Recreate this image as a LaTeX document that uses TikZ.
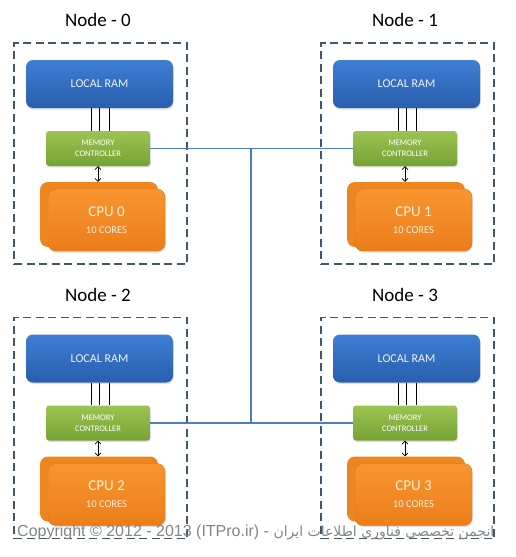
\documentclass[tikz,border=0pt]{standalone}
\usepackage{fontspec}
\setmainfont{Carlito}
\newfontfamily\latinsans{Liberation Sans}
\newfontfamily\arabicfont[Script=Arabic]{DejaVu Sans}
\TeXXeTstate=1
\usetikzlibrary{arrows.meta,shadows}
\definecolor{ramtop}{HTML}{3D7FD4}
\definecolor{rambot}{HTML}{2A5EAD}
\definecolor{ramtext}{HTML}{EEF3FB}
\definecolor{mctop}{HTML}{9CC452}
\definecolor{mcbot}{HTML}{76A235}
\definecolor{cputop}{HTML}{F89530}
\definecolor{cpubot}{HTML}{EC7E1A}
\definecolor{cpuback}{HTML}{EE861F}
\definecolor{cpuedge}{HTML}{DD7412}
\definecolor{cputext}{HTML}{FFF2DC}
\definecolor{boxline}{HTML}{3F5871}
\definecolor{linkblue}{HTML}{4A7EBB}
\definecolor{copygray}{HTML}{858585}
\tikzset{
  titlenode/.style={font=\fontsize{19}{22}\selectfont, inner sep=0pt},
  nodebox/.style={draw=boxline, line width=1.6pt, dash pattern=on 8pt off 4.5pt, minimum width=173pt, minimum height=221pt, inner sep=0pt},
  ramnode/.style={rounded corners=7pt, top color=ramtop, bottom color=rambot, minimum width=147pt, minimum height=48pt, inner sep=0pt, text=ramtext, font=\fontsize{12}{14}\selectfont, drop shadow={shadow xshift=0.8pt, shadow yshift=-1.6pt, opacity=0.25}},
  mcnode/.style={rounded corners=3pt, top color=mctop, bottom color=mcbot, minimum width=104pt, minimum height=35pt, inner sep=0pt, text=white, align=center, font=\fontsize{8.5}{11}\selectfont, drop shadow={shadow xshift=0.8pt, shadow yshift=-1.4pt, opacity=0.25}},
  cpubacknode/.style={rounded corners=8pt, fill=cpuback, minimum width=118pt, minimum height=65pt, inner sep=0pt},
  cpunode/.style={rounded corners=8pt, top color=cputop, bottom color=cpubot, draw=cpuedge, line width=0.4pt, minimum width=117pt, minimum height=62pt, inner sep=0pt, text=cputext, align=center, drop shadow={shadow xshift=0.8pt, shadow yshift=-1.6pt, opacity=0.25}},
  bus/.style={black, line width=1.3pt},
  biarrow/.style={black, line width=0.7pt, {Straight Barb[length=3pt,width=6pt]}-{Straight Barb[length=3pt,width=6pt]}},
  link/.style={linkblue, line width=1.8pt},
  copynode/.style={text=copygray, inner sep=0pt, anchor=west}
}
\begin{document}
\begin{tikzpicture}[x=1pt,y=-1pt]
\useasboundingbox (0,0) rectangle (515,557);
\fill[white] (0,0) rectangle (515,557);
\coordinate (jx) at (251,0);
\foreach \i/\dx/\dy in {0/0/0, 1/307/0, 2/0/274.5, 3/307/274.5} {
  \node[titlenode] (title\i) at (98+\dx, 20+\dy) {Node - \i};
  \node[nodebox] (box\i) at (100.5+\dx, 153.5+\dy) {};
  \node[ramnode] (ram\i) at (99.5+\dx, 84+\dy) {LOCAL RAM};
  \node[mcnode] (mc\i) at (98+\dx, 148.5+\dy) {MEMORY\\CONTROLLER};
  \node[cpubacknode] (cpub\i) at (99+\dx, 214.5+\dy) {};
  \node[cpunode] (cpu\i) at (106.5+\dx, 220+\dy) {{\fontsize{15}{17}\selectfont CPU \i}\\[5pt]{\fontsize{10.5}{12}\selectfont 10 CORES}};
  \foreach \o in {-8,0,10}
    \draw[bus] ([xshift=\o pt]ram\i.south) -- ([xshift=\o pt]ram\i.south |- mc\i.north);
  \draw[biarrow] (mc\i.south) -- (mc\i.south |- cpub\i.north);
}
\draw[link] (mc0.east) -- (mc1.west);
\draw[link] (mc2.east) -- (mc3.west);
\draw[link] (mc0.east -| jx) -- (mc2.east -| jx);
\node[copynode] (copy) at (17,532) {\latinsans\fontsize{16}{18}\selectfont Copyright © 2012 - 2013 (ITPro.ir) - {\arabicfont\fontsize{14}{18}\selectfont\beginR انجمن تخصصی فناوری اطلاعات ایران\endR}};
\end{tikzpicture}
\end{document}
